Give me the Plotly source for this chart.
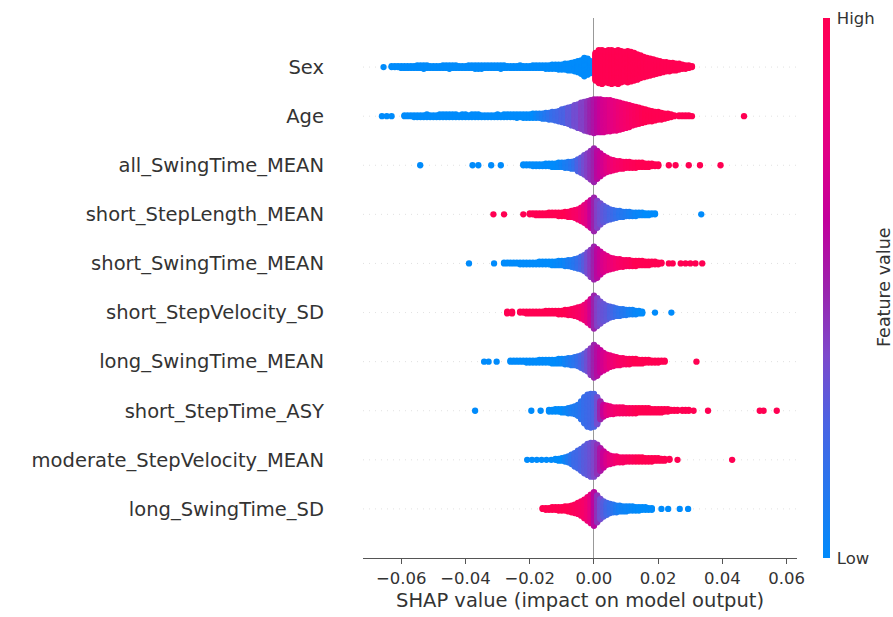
import math
import plotly.graph_objects as go

# Features, listed from the bottom row to the top row
FEATURES = [
    "long_SwingTime_SD",
    "moderate_StepVelocity_MEAN",
    "short_StepTime_ASY",
    "long_SwingTime_MEAN",
    "short_StepVelocity_SD",
    "short_SwingTime_MEAN",
    "short_StepLength_MEAN",
    "all_SwingTime_MEAN",
    "Age",
    "Sex",
]

# Per feature: binned SHAP values, number of samples in each bin, and the
# normalised feature value (0 = low, 1 = high) of the samples in that bin.
sex_shap = [-0.0655,
            -0.063, -0.062, -0.061, -0.060, -0.059, -0.058, -0.057, -0.056, -0.055, -0.054,
            -0.053, -0.052, -0.051, -0.050, -0.049, -0.048, -0.047, -0.046, -0.045, -0.044,
            -0.043, -0.042, -0.041, -0.040, -0.039, -0.038, -0.037, -0.036, -0.035, -0.034,
            -0.033, -0.032, -0.031, -0.030, -0.029, -0.028, -0.027, -0.026, -0.025, -0.024,
            -0.023, -0.022, -0.021, -0.020, -0.019, -0.018, -0.017, -0.016, -0.015, -0.014,
            -0.013, -0.012, -0.011, -0.010, -0.009, -0.008, -0.007, -0.006, -0.005, -0.004,
            -0.003, -0.002, -0.001,
            0.0005, 0.0015, 0.0025, 0.0035, 0.0045, 0.0055, 0.0065, 0.0075, 0.0085, 0.0095,
            0.0105, 0.0115, 0.0125, 0.0135, 0.0145, 0.0155, 0.0165, 0.0175, 0.0185, 0.0195,
            0.0205, 0.0215, 0.0225, 0.0235, 0.0245, 0.0255, 0.0265, 0.0275, 0.0285, 0.0295,
            0.0305]
sex_count = [1,
             2, 2, 2, 3, 3, 3, 3, 3, 4, 4,
             5, 4, 3, 3, 3, 3, 4, 4, 5, 4,
             4, 3, 3, 3, 4, 4, 5, 5, 5, 4,
             4, 4, 4, 4, 5, 4, 3, 3, 3, 3,
             4, 3, 3, 3, 4, 4, 4, 4, 5, 5,
             6, 6, 7, 7, 8, 9, 10, 12, 14, 17,
             23, 20, 15,
             34, 40, 41, 38, 40, 41, 39, 41, 38, 36,
             38, 36, 34, 31, 28, 25, 23, 21, 19, 17,
             15, 13, 12, 11, 10, 9, 8, 6, 5, 4,
             2]
sex_feat = [0,
            0, 0, 0, 0, 0, 0, 0, 0, 0, 0,
            0, 0, 0, 0, 0, 0, 0, 0, 0, 0,
            0, 0, 0, 0, 0, 0, 0, 0, 0, 0,
            0, 0, 0, 0, 0, 0, 0, 0, 0, 0,
            0, 0, 0, 0, 0, 0, 0, 0, 0, 0,
            0, 0, 0, 0, 0, 0, 0, 0, 0, 0,
            0, 0, 0,
            1, 1, 1, 1, 1, 1, 1, 1, 1, 1,
            1, 1, 1, 1, 1, 1, 1, 1, 1, 1,
            1, 1, 1, 1, 1, 1, 1, 1, 1, 1,
            1]

age_shap = [-0.066, -0.0645, -0.063,
            -0.059, -0.058, -0.057, -0.056, -0.055, -0.054, -0.053, -0.052, -0.051, -0.050,
            -0.049, -0.048, -0.047, -0.046, -0.045, -0.044, -0.043, -0.042, -0.041, -0.040,
            -0.039, -0.038, -0.037, -0.036, -0.035, -0.034, -0.033, -0.032, -0.031, -0.030,
            -0.029, -0.028, -0.027, -0.026, -0.025, -0.024, -0.023, -0.022, -0.021, -0.020,
            -0.019, -0.018, -0.017, -0.016, -0.015, -0.014, -0.013, -0.012, -0.011,
            -0.010, -0.009, -0.008, -0.007, -0.006, -0.005, -0.004, -0.003, -0.002, -0.001,
            0.000, 0.001, 0.002, 0.003, 0.004, 0.005, 0.006, 0.007, 0.008, 0.009,
            0.010, 0.011, 0.012, 0.013, 0.014, 0.015, 0.016, 0.017, 0.018, 0.019,
            0.020, 0.021, 0.022, 0.023, 0.024, 0.025,
            0.0265, 0.0275, 0.0285, 0.0295, 0.0305, 0.0467]
age_count = [1, 1, 1,
             2, 2, 2, 3, 3, 3, 3, 4, 3, 3,
             3, 4, 4, 4, 4, 4, 4, 3, 4, 4,
             3, 4, 4, 4, 3, 3, 3, 3, 3, 4,
             3, 4, 4, 4, 4, 5, 4, 5, 5, 5,
             6, 6, 6, 7, 8, 9, 10, 11, 13,
             16, 18, 20, 23, 26, 29, 32, 35, 37, 39,
             41, 40, 40, 39, 38, 38, 36, 35, 33, 31,
             29, 27, 24, 22, 20, 18, 16, 14, 13, 11,
             10, 9, 7, 6, 4, 2,
             2, 2, 2, 2, 1, 1]
age_feat = [0, 0, 0,
            0, 0, 0, 0, 0, 0, 0, 0, 0, 0,
            0, 0, 0, 0, 0, 0, 0, 0, 0, 0,
            0, 0, 0, 0, 0, 0, 0, 0, 0, 0,
            0, 0, 0, 0, 0, 0, 0, 0, 0, 0,
            0, 0.03, 0.06, 0.09, 0.12, 0.15, 0.18, 0.2, 0.22,
            0.25, 0.25, 0.3, 0.3, 0.35, 0.35, 0.4, 0.4, 0.45, 0.5,
            0.55, 0.6, 0.65, 0.7, 0.72, 0.75, 0.78, 0.8, 0.83, 0.86,
            0.88, 0.9, 0.92, 0.94, 0.96, 0.98, 1, 1, 1, 1,
            1, 1, 1, 1, 1, 1,
            1, 1, 1, 1, 1, 1]

asm_shap = [-0.0541, -0.0378, -0.036, -0.032, -0.029,
            -0.022, -0.021, -0.020, -0.019, -0.018, -0.017, -0.016, -0.015, -0.014,
            -0.013, -0.012, -0.011, -0.010, -0.009, -0.008, -0.007, -0.006,
            -0.005, -0.004, -0.003, -0.002, -0.001, 0.000, 0.001, 0.002, 0.003, 0.004,
            0.005, 0.006, 0.007, 0.008, 0.009, 0.010,
            0.011, 0.012, 0.013, 0.014, 0.015, 0.016, 0.017, 0.018, 0.019, 0.020,
            0.0233, 0.0254, 0.0295, 0.033, 0.0394]
asm_count = [1, 1, 1, 1, 1,
             2, 2, 2, 3, 3, 3, 3, 4, 4,
             5, 5, 6, 6, 7, 8, 9, 10,
             15, 19, 24, 29, 35, 41, 34, 28, 22, 18,
             15, 13, 11, 10, 9, 8,
             8, 7, 7, 6, 6, 5, 5, 4, 3, 3,
             1, 1, 1, 1, 1]
asm_feat = [0, 0, 0, 0, 0,
            0, 0, 0, 0, 0, 0, 0, 0, 0,
            0, 0, 0.02, 0.05, 0.08, 0.1, 0.13, 0.17,
            0.25, 0.3, 0.35, 0.4, 0.45, 0.5, 0.6, 0.65, 0.7, 0.75,
            0.8, 0.85, 0.88, 0.9, 0.92, 0.95,
            0.96, 0.97, 0.98, 1, 1, 1, 1, 1, 1, 1,
            1, 1, 1, 1, 1]

ssl_shap = [-0.0313, -0.028, -0.022,
            -0.020, -0.019, -0.018, -0.017, -0.016, -0.015, -0.014, -0.013, -0.012, -0.011,
            -0.010, -0.009, -0.008, -0.007, -0.006,
            -0.005, -0.004, -0.003, -0.002, -0.001, 0.000, 0.001, 0.002, 0.003, 0.004,
            0.005, 0.006, 0.007, 0.008,
            0.009, 0.010, 0.011, 0.012, 0.013, 0.014, 0.015, 0.016, 0.017, 0.018, 0.019,
            0.0334]
ssl_count = [1, 1, 1,
             2, 2, 3, 3, 3, 3, 4, 4, 4, 5,
             5, 6, 7, 8, 10,
             13, 17, 22, 28, 34, 41, 33, 26, 20, 16,
             13, 11, 9, 8,
             7, 6, 6, 5, 5, 4, 4, 3, 3, 2, 2,
             1]
ssl_feat = [1, 1, 1,
            1, 1, 1, 1, 1, 1, 1, 1, 1, 1,
            1, 1, 0.97, 0.95, 0.92,
            0.9, 0.85, 0.8, 0.75, 0.65, 0.5, 0.4, 0.35, 0.3, 0.27,
            0.24, 0.2, 0.17, 0.14,
            0.12, 0.1, 0.08, 0.06, 0.04, 0.03, 0.02, 0, 0, 0, 0,
            0]

ssw_shap = [-0.0389, -0.0311,
            -0.028, -0.027, -0.026, -0.025, -0.024, -0.023, -0.022, -0.021, -0.020, -0.019,
            -0.018, -0.017, -0.016, -0.015, -0.014, -0.013, -0.012, -0.011, -0.010,
            -0.009, -0.008, -0.007, -0.006, -0.005, -0.004, -0.003, -0.002, -0.001, 0.000,
            0.001, 0.002, 0.003, 0.004, 0.005, 0.006, 0.007, 0.008, 0.009, 0.010,
            0.011, 0.012, 0.013, 0.014, 0.015, 0.016, 0.017, 0.018, 0.019, 0.020, 0.021,
            0.0233, 0.0245, 0.027, 0.0285, 0.030, 0.0316, 0.0337]
ssw_count = [1, 1,
             2, 2, 2, 2, 2, 3, 3, 3, 3, 3,
             3, 4, 4, 4, 4, 5, 5, 6, 6,
             7, 8, 9, 11, 13, 16, 20, 26, 33, 40,
             35, 28, 22, 18, 15, 13, 11, 10, 9, 8,
             8, 7, 7, 6, 6, 5, 5, 4, 4, 3, 2,
             1, 1, 1, 1, 1, 1, 1]
ssw_feat = [0, 0,
            0, 0, 0, 0, 0, 0, 0, 0, 0, 0,
            0, 0, 0, 0, 0, 0, 0.01, 0.02, 0.03,
            0.05, 0.08, 0.1, 0.13, 0.17, 0.22, 0.28, 0.35, 0.42, 0.5,
            0.6, 0.66, 0.72, 0.76, 0.8, 0.84, 0.87, 0.9, 0.92, 0.94,
            0.95, 0.97, 1, 1, 1, 1, 1, 1, 1, 1, 1,
            1, 1, 1, 1, 1, 1, 1]

ssv_shap = [-0.027, -0.0255,
            -0.023, -0.022, -0.021, -0.020, -0.019, -0.018, -0.017, -0.016, -0.015, -0.014,
            -0.013, -0.012, -0.011, -0.010, -0.009,
            -0.008, -0.007, -0.006, -0.005, -0.004, -0.003, -0.002, -0.001, 0.000, 0.001,
            0.002, 0.003, 0.004, 0.005, 0.006, 0.007, 0.008, 0.009, 0.010,
            0.011, 0.012, 0.013, 0.014, 0.015,
            0.019, 0.0241]
ssv_count = [3, 3,
             2, 2, 3, 3, 3, 3, 3, 3, 4, 4,
             4, 4, 5, 5, 6,
             7, 8, 10, 12, 15, 19, 25, 32, 40, 34,
             27, 21, 17, 14, 12, 10, 9, 8, 7,
             6, 6, 5, 4, 3,
             1, 1]
ssv_feat = [1, 1,
            1, 1, 1, 1, 1, 1, 1, 1, 1, 1,
            1, 1, 1, 1, 1,
            0.98, 0.96, 0.94, 0.92, 0.9, 0.85, 0.8, 0.7, 0.5, 0.4,
            0.35, 0.32, 0.3, 0.26, 0.22, 0.18, 0.15, 0.12, 0.1,
            0.07, 0.05, 0.03, 0.02, 0,
            0, 0]

lsm_shap = [-0.0342, -0.0328, -0.0303,
            -0.026, -0.025, -0.024, -0.023, -0.022, -0.021, -0.020, -0.019, -0.018, -0.017,
            -0.016, -0.015, -0.014, -0.013, -0.012, -0.011, -0.010,
            -0.009, -0.008, -0.007, -0.006, -0.005, -0.004, -0.003, -0.002, -0.001, 0.000,
            0.001, 0.002, 0.003, 0.004, 0.005, 0.006, 0.007, 0.008, 0.009, 0.010,
            0.011, 0.012, 0.013, 0.014, 0.015, 0.016, 0.017, 0.018, 0.019, 0.020, 0.021, 0.022,
            0.0319]
lsm_count = [1, 1, 1,
             2, 2, 2, 2, 2, 3, 3, 3, 3, 4,
             4, 4, 4, 5, 5, 6, 6,
             7, 8, 9, 10, 12, 15, 19, 24, 31, 38,
             33, 26, 21, 17, 14, 12, 10, 9, 8, 7,
             7, 6, 6, 5, 5, 4, 4, 3, 3, 3, 2, 2,
             1]
lsm_feat = [0, 0, 0,
            0, 0, 0, 0, 0, 0, 0, 0, 0, 0,
            0, 0, 0, 0, 0, 0.01, 0.02,
            0.05, 0.08, 0.11, 0.14, 0.18, 0.23, 0.28, 0.34, 0.42, 0.5,
            0.58, 0.64, 0.7, 0.75, 0.8, 0.84, 0.87, 0.9, 0.92, 0.94,
            0.96, 0.98, 1, 1, 1, 1, 1, 1, 1, 1, 1, 1,
            1]

sta_shap = [-0.037, -0.0195, -0.0166,
            -0.014, -0.013, -0.012, -0.011, -0.010, -0.009, -0.008,
            -0.007, -0.006, -0.005, -0.004, -0.003, -0.002, -0.001, 0.000,
            0.001, 0.002, 0.003, 0.004, 0.005, 0.006, 0.007, 0.008,
            0.009, 0.010, 0.011, 0.012, 0.013, 0.014, 0.015, 0.016, 0.017, 0.018,
            0.019, 0.020, 0.021, 0.022, 0.023,
            0.024, 0.025, 0.026, 0.0275, 0.0285, 0.0295, 0.031,
            0.0355, 0.0516, 0.0528, 0.0569]
sta_count = [1, 1, 1,
             3, 3, 4, 4, 5, 5, 7,
             8, 10, 14, 22, 32, 39, 41, 40,
             33, 22, 15, 12, 10, 9, 8, 8,
             8, 7, 7, 7, 7, 6, 6, 6, 6, 5,
             5, 5, 5, 4, 4,
             2, 2, 2, 2, 2, 2, 1,
             1, 1, 1, 1]
sta_feat = [0, 0, 0,
            0, 0, 0, 0, 0, 0.03, 0.05,
            0.08, 0.1, 0.12, 0.15, 0.18, 0.2, 0.22, 0.25,
            0.35, 0.5, 0.65, 0.75, 0.8, 0.85, 0.88, 0.9,
            0.92, 0.93, 0.95, 0.96, 0.98, 1, 1, 1, 1, 1,
            1, 1, 1, 1, 1,
            1, 1, 1, 1, 1, 1, 1,
            1, 1, 1, 1]

msv_shap = [-0.0208, -0.0193, -0.0178, -0.0163, -0.0148, -0.0133,
            -0.012, -0.011, -0.010, -0.009,
            -0.008, -0.007, -0.006, -0.005, -0.004, -0.003, -0.002, -0.001, 0.000,
            0.001, 0.002, 0.003, 0.004, 0.005, 0.006, 0.007, 0.008,
            0.009, 0.010, 0.011, 0.012, 0.013, 0.014, 0.015, 0.016, 0.017, 0.018,
            0.019, 0.020, 0.021, 0.022,
            0.0235, 0.026, 0.043]
msv_count = [1, 1, 1, 1, 1, 1,
             2, 3, 4, 6,
             8, 12, 17, 22, 27, 33, 38, 41, 41,
             36, 28, 20, 14, 11, 9, 8, 7,
             7, 6, 6, 6, 6, 6, 6, 5, 5, 5,
             4, 4, 3, 3,
             2, 1, 1]
msv_feat = [0, 0, 0, 0, 0, 0,
            0, 0, 0, 0.05,
            0.1, 0.15, 0.2, 0.22, 0.25, 0.28, 0.3, 0.33, 0.38,
            0.45, 0.55, 0.65, 0.72, 0.78, 0.83, 0.87, 0.9,
            0.92, 0.93, 0.95, 0.96, 0.98, 1, 1, 1, 1, 1,
            1, 1, 1, 1,
            1, 1, 1]

lsd_shap = [-0.016, -0.015, -0.014, -0.013, -0.012, -0.011, -0.010, -0.009, -0.008,
            -0.007, -0.006, -0.005, -0.004, -0.003, -0.002, -0.001, 0.000,
            0.001, 0.002, 0.003, 0.004, 0.005, 0.006, 0.007, 0.008,
            0.009, 0.010, 0.011, 0.012, 0.013, 0.014, 0.015, 0.016, 0.017, 0.018,
            0.0210, 0.0231, 0.0267, 0.0293]
lsd_count = [2, 3, 3, 4, 4, 5, 5, 6, 7,
             9, 11, 14, 18, 23, 29, 35, 41,
             33, 25, 19, 15, 12, 10, 9, 8,
             7, 7, 6, 6, 5, 5, 4, 4, 3, 3,
             1, 1, 1, 1]
lsd_feat = [1, 1, 1, 1, 1, 1, 1, 1, 1,
            0.98, 0.96, 0.94, 0.92, 0.9, 0.85, 0.78, 0.6,
            0.45, 0.35, 0.28, 0.22, 0.18, 0.14, 0.1, 0.07,
            0.05, 0.04, 0.03, 0.02, 0.01, 0, 0, 0, 0, 0,
            0, 0, 0, 0]

ROWS = [
    (lsd_shap, lsd_count, lsd_feat),
    (msv_shap, msv_count, msv_feat),
    (sta_shap, sta_count, sta_feat),
    (lsm_shap, lsm_count, lsm_feat),
    (ssv_shap, ssv_count, ssv_feat),
    (ssw_shap, ssw_count, ssw_feat),
    (ssl_shap, ssl_count, ssl_feat),
    (asm_shap, asm_count, asm_feat),
    (age_shap, age_count, age_feat),
    (sex_shap, sex_count, sex_feat),
]

X_TICKS = [-0.06, -0.04, -0.02, 0.0, 0.02, 0.04, 0.06]

# SHAP red-blue colour map (LCH ramp with a dark purple middle)
RED_BLUE = [
    [0.0, "#008bfb"],
    [0.25, "#4b63e3"],
    [0.375, "#7d49cc"],
    [0.5, "#9b23ad"],
    [0.625, "#c2009c"],
    [0.75, "#e00086"],
    [0.875, "#f5006d"],
    [1.0, "#ff0052"],
]

FONT = "DejaVu Sans"
TEXT = "#333333"


def beeswarm(shap_vals, counts, feats, pos, row_height=0.4):
    """Stack the samples of each bin alternately above and below the row line."""
    assert len(shap_vals) == len(counts) == len(feats), FEATURES[pos]
    max_half = max(math.ceil((n - 1) / 2) for n in counts)
    unit = 0.9 * row_height / (max_half + 1)
    xs, ys, cs = [], [], []
    for v, n, f in zip(shap_vals, counts, feats):
        for layer in range(n):
            off = math.ceil(layer / 2) * (1 if layer % 2 else -1)
            xs.append(v)
            ys.append(pos + off * unit)
            cs.append(f)
    return xs, ys, cs


all_x, all_y, all_c = [], [], []
for pos, (sv, cnt, fv) in enumerate(ROWS):
    xs, ys, cs = beeswarm(sv, cnt, fv, pos)
    all_x += xs
    all_y += ys
    all_c += cs

fig = go.Figure()
fig.add_trace(go.Scatter(
    x=all_x, y=all_y, mode="markers",
    hoverinfo="skip",
    marker=dict(
        size=6.3, color=all_c, colorscale=RED_BLUE, cmin=0, cmax=1,
        line=dict(width=0), opacity=1,
        colorbar=dict(
            thickness=7, len=1, lenmode="fraction", y=0.5, yanchor="middle",
            x=1.0599, xanchor="left", xpad=0, ypad=0, outlinewidth=0,
            tickvals=[0, 1], ticktext=["Low", "High"],
            ticks="outside", ticklen=4, tickcolor="rgba(0,0,0,0)",
            tickfont=dict(family=FONT, size=16.5, color=TEXT),
        ),
    ),
    showlegend=False,
))

# faint dotted guide line behind each feature row
shapes = []
for pos in range(len(FEATURES)):
    shapes.append(dict(
        type="line", xref="paper", x0=0, x1=1, yref="y", y0=pos, y1=pos,
        line=dict(color="#cccccc", width=0.6, dash="1px,5px"), layer="below",
    ))

fig.update_layout(
    width=893, height=617, autosize=False,
    margin=dict(l=363, r=96, t=18, b=59),
    paper_bgcolor="white", plot_bgcolor="white",
    font=dict(family=FONT, color=TEXT),
    shapes=shapes,
    xaxis=dict(
        range=[-0.0719, 0.0632], tickvals=X_TICKS, tickformat=".2f",
        showline=True, linecolor="#555555", linewidth=1,
        ticks="outside", ticklen=5, tickcolor="#555555", tickwidth=1,
        tickfont=dict(family=FONT, size=16.5, color=TEXT),
        showgrid=False, zeroline=True, zerolinecolor="#999999", zerolinewidth=1.2,
    ),
    yaxis=dict(
        range=[-1, 10], tickvals=list(range(len(FEATURES))), ticktext=FEATURES,
        showline=False, showgrid=False, zeroline=False, ticks="",
        ticklabelstandoff=38,
        tickfont=dict(family=FONT, size=19.5, color=TEXT),
    ),
    annotations=[
        dict(text="SHAP value (impact on model output)", xref="paper", yref="paper",
             x=0.5, y=-0.0796, xanchor="center", yanchor="middle", showarrow=False,
             font=dict(family=FONT, size=19.5, color=TEXT)),
        dict(text="Feature value", xref="paper", yref="paper",
             x=1.2005, y=0.5019, xanchor="center", yanchor="middle", showarrow=False,
             textangle=-90, font=dict(family=FONT, size=17.5, color=TEXT)),
    ],
)

fig.write_html("out.html", config={"displayModeBar": False})
